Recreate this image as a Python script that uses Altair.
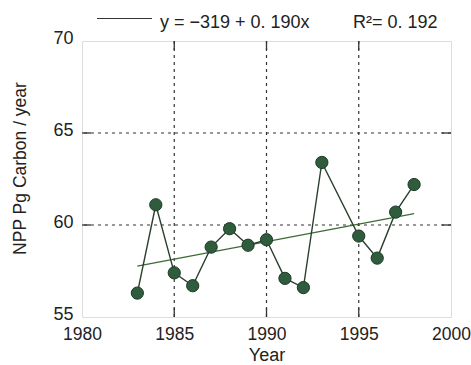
import altair as alt
import pandas as pd

# Annual global NPP estimates
years = [1983, 1984, 1985, 1986, 1987, 1988, 1989, 1990, 1991, 1992, 1993, 1995, 1996, 1997, 1998]
npp = [56.3, 61.1, 57.4, 56.7, 58.8, 59.8, 58.9, 59.2, 57.1, 56.6, 63.4, 59.4, 58.2, 60.7, 62.2]

# Linear fit y = a + b*x
fit_a = -319.0
fit_b = 0.190
fit_years = [1983, 1998]

x_grid = [1985, 1990, 1995]
y_grid = [60, 65]

W, H = 369, 276
TICK = 9
FONT = "Liberation Sans"

df = pd.DataFrame({"year": years, "npp": npp})
fit_df = pd.DataFrame({"year": fit_years, "npp": [fit_a + fit_b * y for y in fit_years]})
xg = pd.DataFrame({"year": x_grid})
yg = pd.DataFrame({"npp": y_grid})
one = pd.DataFrame({"k": [0]})

xs = alt.Scale(domain=[1980, 2000], nice=False, zero=False)
ys = alt.Scale(domain=[55, 70], nice=False, zero=False)

x_axis = alt.Axis(values=[1980, 1985, 1990, 1995, 2000], format="d", grid=False, ticks=False,
                  domain=False, labelFontSize=17.5, labelFont=FONT, labelColor="#222",
                  labelPadding=8, title="Year", titleFontSize=18, titleFont=FONT,
                  titleFontWeight="normal", titleColor="#222", titlePadding=4,
                  labelFlush=False)
y_axis = alt.Axis(values=[55, 60, 65, 70], grid=False, ticks=False, domain=False,
                  labelFontSize=18, labelFont=FONT, labelColor="#222", labelPadding=9,
                  labelBaseline="middle", labelOffset=-3,
                  title="NPP Pg Carbon / year", titleFontSize=17.5, titleFont=FONT,
                  titleFontWeight="normal", titleColor="#222",
                  titleX=-62, titleY=127, titleAlign="center", titleBaseline="middle")

base = alt.Chart(df)

# dotted grid lines
vgrid = alt.Chart(xg).mark_rule(color="#333", strokeDash=[3, 4], strokeWidth=1.2).encode(
    x=alt.X("year:Q", scale=xs, axis=x_axis))
hgrid = alt.Chart(yg).mark_rule(color="#333", strokeDash=[3, 4], strokeWidth=1.2).encode(
    y=alt.Y("npp:Q", scale=ys, axis=y_axis))

# inward tick marks on all four sides
tb = alt.Chart(xg).mark_rule(color="#333", strokeWidth=1.3).encode(
    x=alt.X("year:Q", scale=xs), y=alt.value(H), y2=alt.value(H - TICK))
tt = alt.Chart(xg).mark_rule(color="#333", strokeWidth=1.3).encode(
    x=alt.X("year:Q", scale=xs), y=alt.value(0), y2=alt.value(TICK))
tl = alt.Chart(yg).mark_rule(color="#333", strokeWidth=1.3).encode(
    y=alt.Y("npp:Q", scale=ys), x=alt.value(0), x2=alt.value(TICK))
tr = alt.Chart(yg).mark_rule(color="#333", strokeWidth=1.3).encode(
    y=alt.Y("npp:Q", scale=ys), x=alt.value(W), x2=alt.value(W - TICK))

fit = alt.Chart(fit_df).mark_line(color="#3d6a35", strokeWidth=1.3).encode(
    x=alt.X("year:Q", scale=xs), y=alt.Y("npp:Q", scale=ys))

line = base.mark_line(color="#2b3f2e", strokeWidth=1.4).encode(
    x=alt.X("year:Q", scale=xs), y=alt.Y("npp:Q", scale=ys))
pts = base.mark_point(filled=True, shape="circle", size=150, color="#2e5c3c",
                      stroke="#1c3a26", strokeWidth=1, opacity=1).encode(
    x=alt.X("year:Q", scale=xs), y=alt.Y("npp:Q", scale=ys))

# legend for the fit line
leg_line = alt.Chart(one).mark_rule(color="#333", strokeWidth=1.1).encode(
    x=alt.value(15), x2=alt.value(70), y=alt.value(-22.5))
leg_eq = alt.Chart(one).mark_text(align="left", baseline="alphabetic", fontSize=18,
                                  font=FONT, fontWeight="normal", color="#222").encode(
    x=alt.value(78), y=alt.value(-13), text=alt.value("y  =  −319  +  0. 190x"))
leg_r2 = alt.Chart(one).mark_text(align="left", baseline="alphabetic", fontSize=18,
                                  font=FONT, fontWeight="normal", color="#222").encode(
    x=alt.value(271), y=alt.value(-13), text=alt.value("R²=  0. 192"))

chart = alt.layer(vgrid, hgrid, tb, tt, tl, tr, fit, line, pts, leg_line, leg_eq, leg_r2).properties(
    width=W, height=H,
    padding={"left": 82, "top": 41, "right": 20, "bottom": 48},
    autosize=alt.AutoSizeParams(type="none"),
).configure_view(stroke="#333", strokeWidth=1.5).configure(background="white")

chart.save("out.html", embed_options={"renderer": "svg", "actions": False})
